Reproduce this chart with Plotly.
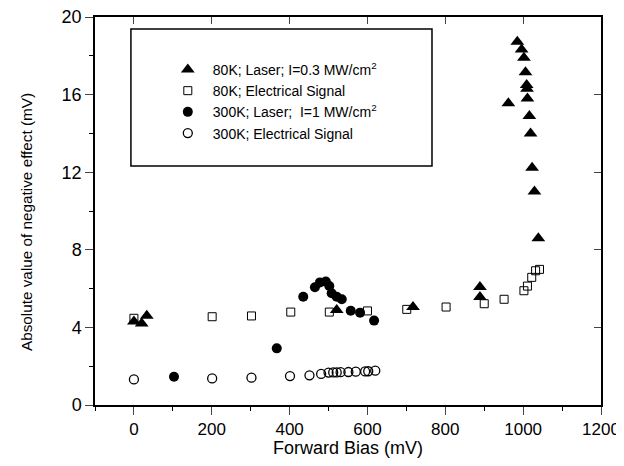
import plotly.graph_objects as go

# 80K laser (filled triangles)
laser80_x = [0, 20, 33, 521, 717, 889, 889, 962, 985, 996, 1002, 1006, 1009, 1010, 1011, 1016, 1019, 1023, 1029, 1039]
laser80_y = [4.3, 4.2, 4.6, 4.9, 5.05, 6.08, 5.57, 15.55, 18.73, 18.33, 17.9, 17.15, 16.5, 16.3, 15.8, 14.9, 14.0, 12.23, 11.0, 8.59]

# 80K electrical (open squares)
elec80_x = [0, 201, 302, 403, 502, 600, 701, 802, 900, 951, 1002, 1011, 1022, 1032, 1042]
elec80_y = [4.47, 4.55, 4.59, 4.79, 4.79, 4.85, 4.93, 5.05, 5.22, 5.45, 5.89, 6.13, 6.58, 6.92, 6.99]

# 300K laser (filled circles)
laser300_x = [103, 367, 435, 465, 478, 493, 502, 508, 521, 534, 557, 581, 617]
laser300_y = [1.46, 2.92, 5.58, 6.07, 6.32, 6.36, 6.13, 5.76, 5.58, 5.45, 4.86, 4.76, 4.35]

# 300K electrical (open circles)
elec300_x = [0, 201, 302, 401, 451, 481, 500, 512, 521, 531, 551, 570, 594, 602, 620]
elec300_y = [1.32, 1.37, 1.41, 1.49, 1.53, 1.6, 1.67, 1.68, 1.68, 1.69, 1.7, 1.72, 1.73, 1.74, 1.77]

names = [
    "80K; Laser; I=0.3 MW/cm<sup>2</sup>",
    "80K; Electrical Signal",
    "300K; Laser;  I=1 MW/cm<sup>2</sup>",
    "300K; Electrical Signal",
]

x_ticks = [0, 200, 400, 600, 800, 1000, 1200]
y_ticks = [0, 4, 8, 12, 16, 20]

x_title = "Forward Bias (mV)"
y_title = "Absolute value of negative effect (mV)"

FONT = "Liberation Sans, Arial, Helvetica, sans-serif"

fig = go.Figure()
fig.add_trace(go.Scatter(x=laser80_x, y=laser80_y, mode="markers", name=names[0],
                         marker=dict(symbol="triangle-up", size=12, color="black")))
fig.add_trace(go.Scatter(x=elec80_x, y=elec80_y, mode="markers", name=names[1],
                         marker=dict(symbol="square-open", size=8, color="black", line=dict(width=1))))
fig.add_trace(go.Scatter(x=laser300_x, y=laser300_y, mode="markers", name=names[2],
                         marker=dict(symbol="circle", size=10, color="black")))
fig.add_trace(go.Scatter(x=elec300_x, y=elec300_y, mode="markers", name=names[3],
                         marker=dict(symbol="circle-open", size=9, color="black", line=dict(width=1.3))))
# empty trace to activate the mirrored top/right axes
fig.add_trace(go.Scatter(x=[], y=[], xaxis="x2", yaxis="y2", showlegend=False, hoverinfo="skip"))

fig.update_layout(
    width=616, height=450,
    margin=dict(l=87, r=23, t=9, b=53),
    paper_bgcolor="white", plot_bgcolor="white",
    font=dict(family=FONT, color="black"),
    showlegend=True,
    legend=dict(x=0.134, y=0.905, xanchor="left", yanchor="top",
                bgcolor="rgba(0,0,0,0)", borderwidth=0, itemwidth=40,
                font=dict(size=14, family=FONT), tracegroupgap=0),
    xaxis=dict(range=[-100, 1200], tickvals=x_ticks, ticks="outside", ticklen=8, tickwidth=1,
               showline=True, linecolor="black", linewidth=1.5, showgrid=False, zeroline=False,
               automargin=False, ticklabeloverflow="allow",
               tickfont=dict(size=17), title=dict(text=x_title, font=dict(size=18), standoff=4),
               minor=dict(dtick=100, tick0=0, ticks="outside", ticklen=4, tickcolor="black", showgrid=False)),
    yaxis=dict(range=[0, 20], tickvals=y_ticks, ticks="outside", ticklen=8, tickwidth=1,
               showline=True, linecolor="black", linewidth=1.5, showgrid=False, zeroline=False,
               automargin=False, ticklabeloverflow="allow",
               tickfont=dict(size=18),
               minor=dict(dtick=2, tick0=0, ticks="outside", ticklen=4, tickcolor="black", showgrid=False)),
    xaxis2=dict(range=[-100, 1200], overlaying="x", side="top", tickvals=x_ticks, ticks="inside",
                ticklen=7, showticklabels=False, showline=True, linecolor="black", linewidth=1.5,
                showgrid=False, zeroline=False, automargin=False),
    yaxis2=dict(range=[0, 20], overlaying="y", side="right", tickvals=y_ticks, ticks="inside",
                ticklen=7, showticklabels=False, showline=True, linecolor="black", linewidth=1.5,
                showgrid=False, zeroline=False, automargin=False),
    shapes=[dict(type="rect", xref="paper", yref="paper", x0=0.071, x1=0.666, y0=0.616, y1=0.969,
                 line=dict(color="black", width=1.5), fillcolor="rgba(0,0,0,0)")],
    annotations=[dict(text=y_title, textangle=-90, xref="paper", yref="paper",
                      x=-0.134, y=0.472, xanchor="center", yanchor="middle", showarrow=False,
                      font=dict(size=15.3, family=FONT))],
)

fig.write_html("out.html")
